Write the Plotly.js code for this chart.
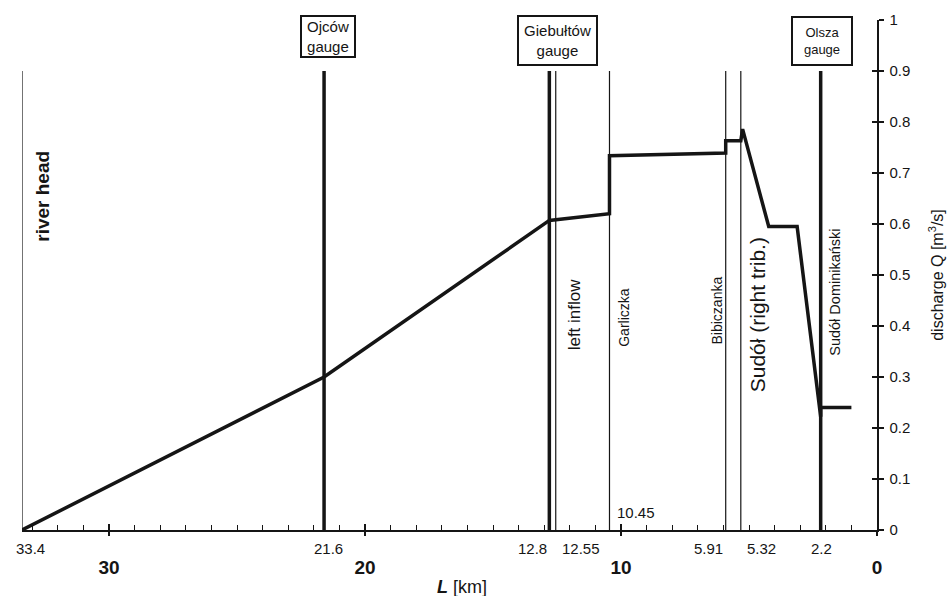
<!DOCTYPE html>
<html>
<head>
<meta charset="utf-8">
<script src="https://cdn.plot.ly/plotly-3.0.1.min.js"></script>
<style>html,body{margin:0;padding:0;background:#fff;}</style>
</head>
<body>
<div id="chart" style="width:949px;height:596px;"></div>
<script>
// ---- data ----
const flowKm = [33.4, 21.6, 12.8, 10.45, 10.45, 5.91, 5.91, 5.32, 5.25, 4.23, 3.12, 2.2, 2.2, 1.0];
const flowQ  = [0, 0.30, 0.607, 0.620, 0.734, 0.739, 0.763, 0.763, 0.786, 0.595, 0.595, 0.222, 0.240, 0.240];

const gaugeKm = [21.6, 12.8, 2.2];
const gaugeNames = ['Ojców<br>gauge', 'Giebułtów<br>gauge', 'Olsza<br>gauge'];

const markerKm = [33.4, 12.55, 10.45, 5.91, 5.32];
const markerTopQ = 0.9;

const labelKm = [33.4, 12.55, 10.45, 5.91, 5.32, 2.2];
const labelNames = ['<b>river head</b>', 'left inflow', 'Garliczka', 'Bibiczanka', 'Sudół (right trib.)', 'Sudół Dominikański'];

const kmTickVals = [33.4, 21.6, 12.8, 12.55, 10.45, 5.91, 5.32, 2.2];
const kmTickText = ['33.4', '21.6', '12.8', '12.55', '10.45', '5.91', '5.32', '2.2'];

const majorKm = [30, 20, 10, 0];
const majorKmText = ['30', '20', '10', '0'];

// ---- styles (positions) ----
const ink = '#151515';
const gaugeStyle = [
  {xshift: 4, y: 0.9676, w: 52, h: 39, size: 15},
  {xshift: 8, y: 0.9598, w: 77, h: 47, size: 15},
  {xshift: 1.3, y: 0.9588, w: 58, h: 46, size: 13}
];
const labelStyle = [
  {xshift: 20.8, y: 0.655, size: 19, bg: null},
  {xshift: 18.6, y: 0.4235, size: 17, bg: '#ffffff'},
  {xshift: 14.8, y: 0.4167, size: 14, bg: null},
  {xshift: -8.4, y: 0.431, size: 14, bg: null},
  {xshift: 17.5, y: 0.4216, size: 21, bg: null},
  {xshift: 14.6, y: 0.4657, size: 14.5, bg: null}
];
const kmTickStyle = [
  {xshift: 8.3, y: -0.0353},
  {xshift: 4.6, y: -0.0353},
  {xshift: -17.3, y: -0.0353},
  {xshift: 25.6, y: -0.0353},
  {xshift: 27, y: 0.0343},
  {xshift: -17.4, y: -0.0353},
  {xshift: 20.5, y: -0.0353},
  {xshift: 1.3, y: -0.0353}
];

function vlines(kms, top) {
  const x = [], y = [];
  kms.forEach(k => { x.push(k, k, null); y.push(0, top, null); });
  return {x, y};
}

const g = vlines(gaugeKm, markerTopQ);
const m = vlines(markerKm, markerTopQ);

const traces = [
  {x: m.x, y: m.y, mode: 'lines', line: {color: ink, width: 1.2}, hoverinfo: 'skip'},
  {x: g.x, y: g.y, mode: 'lines', line: {color: ink, width: 3.5}, hoverinfo: 'skip'},
  {x: flowKm, y: flowQ, mode: 'lines', line: {color: ink, width: 3.5}, hoverinfo: 'skip'},
  {x: [0], y: [0], xaxis: 'x2', yaxis: 'y2', mode: 'markers', marker: {opacity: 0}, hoverinfo: 'skip'}
];

const annotations = [];
gaugeKm.forEach((k, i) => {
  const s = gaugeStyle[i];
  annotations.push({
    x: k, xref: 'x', y: s.y, yref: 'paper', xshift: s.xshift,
    text: gaugeNames[i], showarrow: false, xanchor: 'center', yanchor: 'middle',
    font: {size: s.size, color: ink}, bgcolor: '#ffffff', bordercolor: ink,
    borderwidth: 2, borderpad: 0, width: s.w, height: s.h
  });
});
labelKm.forEach((k, i) => {
  const s = labelStyle[i];
  const a = {
    x: k, xref: 'x', y: s.y, yref: 'paper', xshift: s.xshift,
    text: labelNames[i], showarrow: false, textangle: -90,
    xanchor: 'center', yanchor: 'middle', font: {size: s.size, color: ink}
  };
  if (s.bg) a.bgcolor = s.bg;
  annotations.push(a);
});
kmTickVals.forEach((k, i) => {
  const s = kmTickStyle[i];
  annotations.push({
    x: k, xref: 'x', y: s.y, yref: 'paper', xshift: s.xshift,
    text: kmTickText[i], showarrow: false, xanchor: 'center', yanchor: 'middle',
    font: {size: 15, color: ink}
  });
});
annotations.push({
  x: 0.5146, xref: 'paper', y: -0.1118, yref: 'paper',
  text: '<b><i>L</i></b> [km]', showarrow: false, xanchor: 'center', yanchor: 'middle',
  font: {size: 18, color: ink}
});

const layout = {
  width: 949, height: 596,
  margin: {l: 22, r: 72, t: 20, b: 66, pad: 0},
  paper_bgcolor: '#ffffff', plot_bgcolor: 'rgba(0,0,0,0)',
  showlegend: false,
  font: {family: 'Liberation Sans, Arial, sans-serif', color: ink},
  xaxis: {
    range: [33.4, 0], showgrid: false, zeroline: false,
    showline: true, linecolor: ink, linewidth: 1.5,
    tickmode: 'array', tickvals: majorKm, ticktext: majorKmText,
    ticks: 'inside', ticklen: 6, tickwidth: 1.5, tickcolor: ink,
    tickfont: {size: 19, weight: 'bold', color: ink},
    ticklabelstandoff: 20,
    minor: {dtick: 1, tick0: 0, ticks: 'inside', ticklen: 5, tickwidth: 1, tickcolor: ink}
  },
  xaxis2: {
    overlaying: 'x', range: [33.4, 0], showgrid: false, zeroline: false, showline: false,
    tickmode: 'array', tickvals: majorKm, ticks: 'outside', ticklen: 5, tickwidth: 1.5,
    tickcolor: ink, showticklabels: false, anchor: 'y2'
  },
  yaxis: {
    range: [0, 1], side: 'right', showgrid: false, zeroline: false,
    showline: true, linecolor: ink, linewidth: 1.5,
    dtick: 0.1, tick0: 0, ticks: 'outside', ticklen: 5, tickwidth: 1.2, tickcolor: ink,
    tickfont: {size: 15, color: ink}, ticklabelstandoff: 3,
    title: {text: 'discharge Q [m<sup>3</sup>/s]', font: {size: 16, color: ink}, standoff: 22}
  },
  yaxis2: {
    overlaying: 'y', side: 'right', range: [0, 1], showgrid: false, zeroline: false,
    showline: false, dtick: 0.1, tick0: 0, ticks: 'inside', ticklen: 5, tickwidth: 1.2,
    tickcolor: ink, showticklabels: false, anchor: 'x2'
  },
  annotations: annotations
};

Plotly.newPlot('chart', traces, layout, {displayModeBar: false, staticPlot: true});
</script>
</body>
</html>
